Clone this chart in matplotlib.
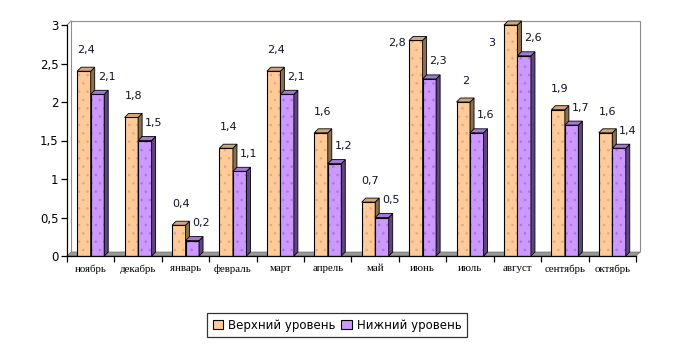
import matplotlib
matplotlib.use("Agg")
import matplotlib.pyplot as plt
from matplotlib.patches import Polygon, Patch

months = ['ноябрь', 'декабрь', 'январь', 'февраль', 'март', 'апрель',
          'май', 'июнь', 'июль', 'август', 'сентябрь', 'октябрь']
upper = [2.4, 1.8, 0.4, 1.4, 2.4, 1.6, 0.7, 2.8, 2.0, 3.0, 1.9, 1.6]
lower = [2.1, 1.5, 0.2, 1.1, 2.1, 1.2, 0.5, 2.3, 1.6, 2.6, 1.7, 1.4]
series_names = ['Верхний уровень', 'Нижний уровень']
yticks = [0, 0.5, 1, 1.5, 2, 2.5, 3]

# front / top / side / dot colours per series
colors = [
    ('#FFCC99', '#D2A77C', '#8A7050', '#F0A080'),
    ('#CC99FF', '#A478D8', '#5E4482', '#B070E8'),
]

plt.rcParams['font.family'] = ['DejaVu Sans']
plt.rcParams['hatch.linewidth'] = 0.6

W, H = 676, 347
fig = plt.figure(figsize=(W / 100, H / 100), dpi=100)
x0, x1, y0, y1 = 67, 636, 256, 25
ax = fig.add_axes([x0 / W, 1 - y0 / H, (x1 - x0) / W, (y0 - y1) / H])
n = len(months)
ax.set_xlim(-0.5, n - 0.5)
ax.set_ylim(0, 3)

px_x = (x1 - x0) / n
px_y = (y0 - y1) / 3
dx, dy = 4.0 / px_x, 4.0 / px_y
bw = 13.5 / px_x

# back wall and floor
xa, xb = -0.5, n - 0.5
wall = Polygon([(xa + dx, dy), (xa + dx, 3 + dy), (xb + dx, 3 + dy), (xb + dx, dy)],
               closed=False, fill=False, edgecolor='#8c8c8c', lw=0.8,
               clip_on=False, zorder=0)
ax.add_patch(wall)
ax.plot([xa, xa + dx], [3, 3 + dy], color='#8c8c8c', lw=0.8, clip_on=False, zorder=0)
floor = Polygon([(xa, 0), (xb, 0), (xb + dx, dy), (xa + dx, dy)],
                facecolor='#999999', edgecolor='#6e6e6e', lw=0.5,
                clip_on=False, zorder=1)
ax.add_patch(floor)

for s, vals in enumerate([upper, lower]):
    front, top, side, dot = colors[s]
    z = 2 + s
    lefts = [i - bw + s * bw for i in range(n)]
    ax.bar(lefts, vals, width=bw, align='edge', color=front, lw=0, zorder=z)
    ax.bar(lefts, vals, width=bw, align='edge', facecolor='none', edgecolor=dot,
           hatch='..', lw=0, zorder=z)
    ax.bar(lefts, vals, width=bw, align='edge', facecolor='none', edgecolor='black',
           lw=0.8, zorder=z)
    for xl, v in zip(lefts, vals):
        xr = xl + bw
        ax.add_patch(Polygon([(xr, 0), (xr, v), (xr + dx, v + dy), (xr + dx, dy)],
                             facecolor=side, edgecolor='black', lw=0.6,
                             clip_on=False, zorder=z))
        ax.add_patch(Polygon([(xl, v), (xr, v), (xr + dx, v + dy), (xl + dx, v + dy)],
                             facecolor=top, edgecolor='black', lw=0.6,
                             clip_on=False, zorder=z))
        xc = xl + bw / 2
        if s == 0:
            off = (2, 21)
            yl = v
            if v + 21 / px_y > 2.77:
                yl, off = 2.77, (-19, 0)
        else:
            off, yl = (9, 17.5), v
        ax.annotate(f'{v:g}'.replace('.', ','), xy=(xc, yl),
                    xytext=(off[0] * 0.72, off[1] * 0.72), textcoords='offset points',
                    ha='center', va='center', fontsize=8, color='#101028',
                    zorder=10, annotation_clip=False)

for sp in ['top', 'right']:
    ax.spines[sp].set_visible(False)
ax.spines['left'].set_linewidth(0.9)
ax.spines['bottom'].set_linewidth(0.9)
ax.spines['bottom'].set_zorder(5)

ax.set_yticks(yticks)
ax.set_yticklabels([f'{t:g}'.replace('.', ',') for t in yticks], fontsize=8.5)
ax.tick_params(axis='y', length=4, width=0.9, pad=2)

ax.set_xticks(range(n))
ax.set_xticklabels(months, family='Liberation Serif', fontsize=7.8)
ax.set_xticks([i - 0.5 for i in range(n + 1)], minor=True)
ax.tick_params(axis='x', which='major', length=0, pad=6)
ax.tick_params(axis='x', which='minor', length=4, width=0.9)

handles = [Patch(facecolor=colors[k][0], edgecolor='black', lw=0.8, label=series_names[k])
           for k in range(2)]
leg = fig.legend(handles=handles, loc='center', bbox_to_anchor=(337 / W, 1 - 325 / H),
                 ncol=2, fontsize=8.5, frameon=True, fancybox=False,
                 handlelength=0.9, handleheight=0.9, handletextpad=0.4,
                 columnspacing=0.5, borderpad=0.5)
leg.get_frame().set_edgecolor('black')
leg.get_frame().set_linewidth(0.9)

fig.savefig('out.png', dpi=100)
